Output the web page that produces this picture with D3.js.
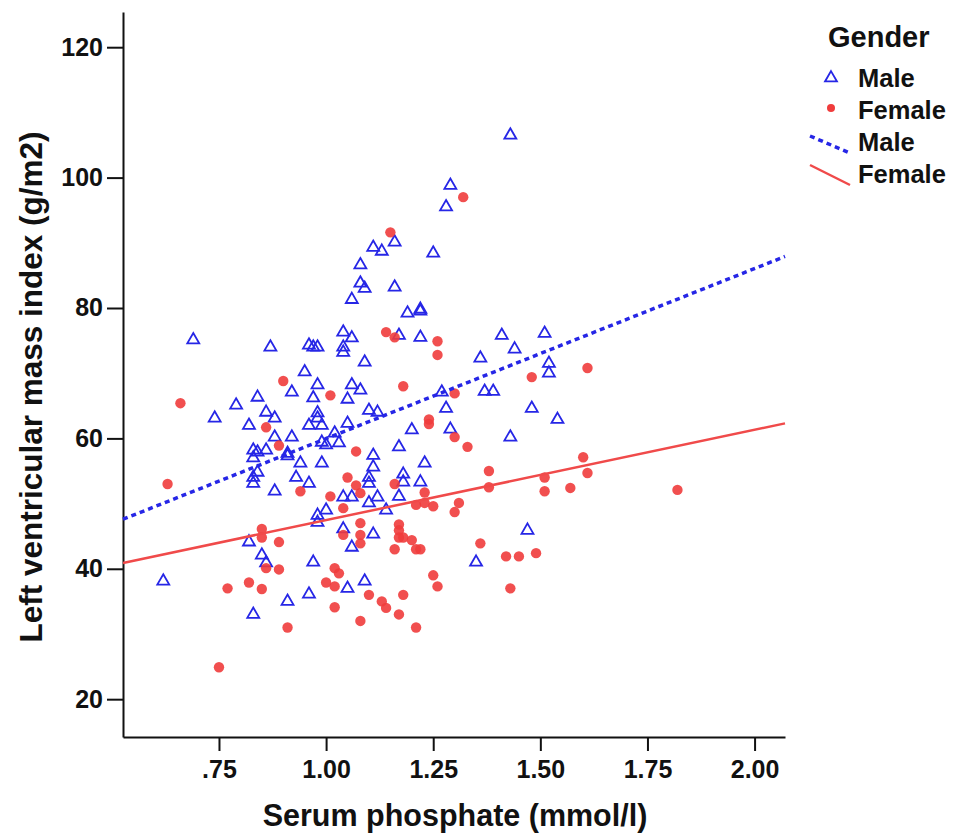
<!DOCTYPE html>
<html>
  <head>
    <meta charset="utf-8">
    <title>LVMI vs serum phosphate</title>
    <script src="https://d3js.org/d3.v7.min.js"></script>
    <style>
      body { margin: 0; background: #fff; }
      text { font-family: "Liberation Sans", Arial, sans-serif; font-weight: bold; }
    </style>
  </head>
  <body>
    <div id="my_dataviz"></div>
    <script>

    // male patients: serum phosphate (mmol/l), LVMI (g/m2)
    var malePhos = [1.43,1.29,1.28,1.16,1.11,1.13,1.25,1.08,1.08,1.09,1.16,1.06,1.19,1.22,1.22,1.04,1.06,1.17,1.22,1.41,
      1.51,1.04,1.44,1.04,1.09,1.36,1.52,1.52,1.06,1.08,1.05,1.27,1.37,1.39,1.10,1.12,1.28,1.48,1.05,1.02,
      1.03,1.20,1.29,1.43,1.17,1.11,1.23,1.11,1.10,1.10,1.18,1.18,1.22,1.04,1.06,1.12,1.17,1.10,1.14,1.04,
      1.11,1.47,1.06,1.35,1.05,1.09,0.69,0.87,0.96,0.97,0.98,0.95,0.98,0.92,0.97,0.84,0.79,0.86,0.88,0.74,
      0.98,0.98,0.96,0.99,0.82,0.88,0.92,0.99,1.00,0.83,0.84,0.86,0.83,0.91,0.91,0.94,0.99,0.84,0.83,0.83,
      0.93,0.96,0.88,1.00,0.98,0.98,0.82,0.85,0.86,0.97,0.62,0.91,0.96,0.83,1.54]
    var maleLvmi = [106.5,98.8,95.5,90.1,89.3,88.7,88.4,86.6,83.8,83.0,83.2,81.3,79.2,79.8,79.5,76.3,75.4,75.8,75.5,75.8,
      76.1,74.0,73.7,73.2,71.7,72.3,71.5,70.0,68.2,67.4,66.0,67.1,67.2,67.2,64.3,64.0,64.6,64.6,62.3,60.8,
      59.3,61.3,61.4,60.2,58.7,57.4,56.2,55.6,54.0,53.1,54.5,53.3,53.3,51.0,51.0,51.0,51.1,50.1,49.0,46.1,
      45.3,45.9,43.3,41.0,37.0,38.1,75.1,74.0,74.3,74.0,74.0,70.2,68.2,67.1,66.2,66.3,65.1,64.0,63.1,63.1,
      63.9,63.1,62.0,62.0,62.0,60.2,60.2,59.4,59.0,58.2,57.9,58.2,57.0,57.7,57.3,56.2,56.2,54.8,54.0,53.1,
      54.0,53.1,51.9,49.0,48.2,47.1,44.1,42.1,40.9,41.0,38.1,35.0,36.1,33.0,62.9]

    // female patients
    var femalePhos = [1.32,1.15,1.14,1.16,1.26,1.26,1.48,1.18,1.01,1.30,1.24,1.24,1.30,1.33,1.07,1.38,1.05,1.07,1.08,1.01,
      1.16,1.38,1.51,1.51,1.23,1.04,1.21,1.23,1.25,1.31,1.30,1.08,1.04,1.08,1.08,1.17,1.17,1.17,1.18,1.20,
      1.36,1.21,1.22,1.16,1.42,1.45,1.49,1.43,1.02,1.03,1.02,1.10,1.13,1.14,1.18,1.25,1.26,1.17,1.08,1.21,
      1.02,0.90,0.66,0.86,0.89,0.94,0.63,0.85,0.85,0.89,0.86,0.89,1.00,0.77,0.82,0.85,0.91,0.75,1.61,1.60,
      1.61,1.57,1.82]
    var femaleLvmi = [97.0,91.6,76.3,75.5,74.9,72.8,69.4,68.0,66.6,66.9,62.9,62.2,60.2,58.7,58.0,55.0,54.0,52.8,51.6,51.1,
      53.0,52.5,54.0,51.9,51.7,49.3,49.8,50.1,49.6,50.1,48.7,47.0,45.2,45.2,43.9,46.8,45.9,44.8,44.8,44.4,
      43.9,43.0,43.0,43.0,41.9,41.9,42.4,37.0,40.1,39.3,37.3,36.0,35.0,34.0,36.0,39.0,37.3,33.0,32.0,31.0,
      34.1,68.8,65.4,61.7,58.9,51.9,53.0,46.1,44.8,44.1,40.1,39.9,37.9,37.0,37.9,36.9,31.0,24.9,70.8,57.1,
      54.7,52.4,52.1]

    // fit lines, end points over the x range
    var maleFit = [[0.526, 47.6], [2.071, 87.9]]
    var femaleFit = [[0.526, 40.9], [2.071, 62.3]]

    var xTicks = [0.75, 1.00, 1.25, 1.50, 1.75, 2.00]
    var yTicks = [20, 40, 60, 80, 100, 120]

    var width = 954, height = 834
    var blue = "#2626e6", red = "#f03c3c", redLine = "#f04a4a"

    var svg = d3.select("#my_dataviz").append("svg")
        .attr("width", width)
        .attr("height", height)

    var x = d3.scaleLinear().domain([0.526, 2.071]).range([123, 785])
    var y = d3.scaleLinear().domain([14.2, 125.4]).range([737, 12])

    // axes
    var xAxis = svg.append("g")
        .attr("transform", "translate(0,737)")
        .call(d3.axisBottom(x).tickValues(xTicks).tickSize(14).tickSizeOuter(0).tickPadding(9)
            .tickFormat(function(d) { return d3.format(".2f")(d).replace(/^0/, "") }))
    var yAxis = svg.append("g")
        .attr("transform", "translate(123,0)")
        .call(d3.axisLeft(y).tickValues(yTicks).tickSize(16).tickSizeOuter(0).tickPadding(4))

    ;[xAxis, yAxis].forEach(function(a) {
        a.selectAll("path, line").attr("stroke", "#111").attr("stroke-width", 2)
        a.selectAll("text").attr("fill", "#111").style("font-size", "25px")
    })

    svg.append("text")
        .attr("x", 455).attr("y", 826)
        .attr("text-anchor", "middle")
        .style("font-size", "30.5px").attr("fill", "#111")
        .text("Serum phosphate (mmol/l)")
    svg.append("text")
        .attr("transform", "translate(42,387) rotate(-90)")
        .attr("text-anchor", "middle")
        .style("font-size", "31.5px").attr("fill", "#111")
        .text("Left ventricular mass index (g/m2)")

    var line = d3.line().x(function(d) { return x(d[0]) }).y(function(d) { return y(d[1]) })

    // male points
    var tri = d3.symbol().type(d3.symbolTriangle).size(62)
    svg.append("g").selectAll("path")
        .data(d3.zip(malePhos, maleLvmi))
        .enter().append("path")
        .attr("d", tri)
        .attr("transform", function(d) { return "translate(" + x(d[0]) + "," + y(d[1]) + ")" })
        .attr("fill", "none")
        .attr("stroke", blue)
        .attr("stroke-width", 1.8)

    // female points
    svg.append("g").selectAll("circle")
        .data(d3.zip(femalePhos, femaleLvmi))
        .enter().append("circle")
        .attr("cx", function(d) { return x(d[0]) })
        .attr("cy", function(d) { return y(d[1]) })
        .attr("r", 5.2)
        .attr("fill", red)
        .attr("opacity", 0.9)

    // fit lines
    svg.append("path").attr("d", line(maleFit))
        .attr("fill", "none").attr("stroke", blue)
        .attr("stroke-width", 3.5).attr("stroke-dasharray", "5,4")
    svg.append("path").attr("d", line(femaleFit))
        .attr("fill", "none").attr("stroke", redLine)
        .attr("stroke-width", 2.5)

    // legend
    var lg = svg.append("g")
    lg.append("text").attr("x", 828).attr("y", 47).style("font-size", "29px").attr("fill", "#111").text("Gender")
    var labels = ["Male", "Female", "Male", "Female"]
    lg.selectAll(".lab").data(labels).enter().append("text")
        .attr("class", "lab")
        .attr("x", 858)
        .attr("y", function(d, i) { return 87 + i * 32 })
        .style("font-size", "25.5px").attr("fill", "#111")
        .text(function(d) { return d })
    lg.append("path").attr("d", tri)
        .attr("transform", "translate(831,78)")
        .attr("fill", "none").attr("stroke", blue).attr("stroke-width", 1.8)
    lg.append("circle").attr("cx", 831).attr("cy", 108).attr("r", 4)
        .attr("fill", red)
    lg.append("line").attr("x1", 810).attr("y1", 136).attr("x2", 850).attr("y2", 153)
        .attr("stroke", blue).attr("stroke-width", 3.5).attr("stroke-dasharray", "5,4")
    lg.append("line").attr("x1", 810).attr("y1", 165).attr("x2", 850).attr("y2", 185)
        .attr("stroke", redLine).attr("stroke-width", 2.5)

    </script>
  </body>
</html>
